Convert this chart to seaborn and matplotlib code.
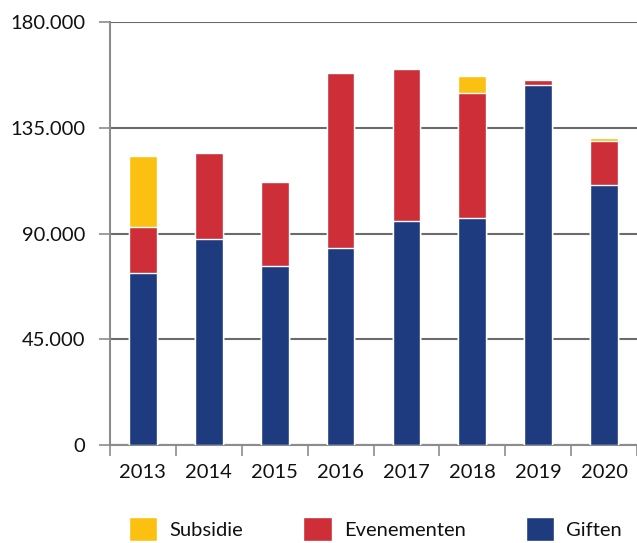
import matplotlib
matplotlib.use("Agg")
import matplotlib.pyplot as plt
from matplotlib.patches import Patch
from matplotlib.ticker import FuncFormatter
import numpy as np
import pandas as pd
import seaborn as sns

years = ["2013", "2014", "2015", "2016", "2017", "2018", "2019", "2020"]
giften = [73400, 87700, 76200, 83900, 95400, 96800, 153300, 110700]
evenementen = [19400, 36600, 35800, 74500, 64700, 53100, 2100, 18700]
subsidie = [30200, 0, 0, 0, 0, 7200, 0, 1300]

colors = {"Subsidie": "#FCC010", "Evenementen": "#CE2E38", "Giften": "#1F3B7F"}

df = pd.DataFrame({
    "jaar": years,
    "Giften": giften,
    "Evenementen": evenementen,
    "Subsidie": subsidie,
})
# cumulative heights for stacking
df["top_giften"] = df["Giften"]
df["top_evenementen"] = df["Giften"] + df["Evenementen"]
df["top_subsidie"] = df["top_evenementen"] + df["Subsidie"]

sns.set_theme(style="white")
plt.rcParams["font.family"] = ["Lato", "DejaVu Sans"]

fig = plt.figure(figsize=(6.37, 5.43), dpi=100)
ax = fig.add_axes([110 / 637, 1 - 445 / 543, 1 - 110 / 637, (445 - 22.3) / 543])

for col, name in [("top_subsidie", "Subsidie"),
                  ("top_evenementen", "Evenementen"),
                  ("top_giften", "Giften")]:
    sns.barplot(data=df, x="jaar", y=col, color=colors[name], width=0.42,
                saturation=1, ax=ax, zorder=3)

ax.set_xlim(-0.5, len(years) - 0.5)
ax.set_ylim(0, 180000)
ax.set_yticks(np.arange(0, 180001, 45000))
ax.yaxis.set_major_formatter(
    FuncFormatter(lambda v, p: "0" if v == 0 else f"{int(v):,}".replace(",", ".")))
ax.set_xlabel("")
ax.set_ylabel("")

grid = "#6b6b6b"
ax.grid(axis="y", color=grid, linewidth=1.5, zorder=0)
ax.grid(axis="x", visible=False)
for s in ["top", "right"]:
    ax.spines[s].set_visible(False)
for s in ["left", "bottom"]:
    ax.spines[s].set_color("#8c8c8c")
    ax.spines[s].set_linewidth(1.5)

ax.set_xticks(np.arange(-0.5, len(years), 1), minor=True)
ax.tick_params(axis="x", which="major", length=0, pad=14, labelsize=14.5,
               labelcolor="#111111")
ax.tick_params(axis="x", which="minor", length=8, width=1.2, color="#8c8c8c",
               direction="out", bottom=True)
ax.tick_params(axis="y", length=8, width=1.2, color="#8c8c8c",
               direction="out", left=True, pad=10, labelsize=14.5,
               labelcolor="#111111")

handles = [Patch(facecolor=colors[n], label=n)
           for n in ["Subsidie", "Evenementen", "Giften"]]
fig.legend(handles=handles, loc="center left", bbox_to_anchor=(129 / 637, 0.026),
           ncol=3, frameon=False, fontsize=14.5, labelcolor="#111111",
           handlelength=1.4, handleheight=1.4, handletextpad=0.6,
           columnspacing=3.0, borderpad=0, borderaxespad=0)

fig.savefig("out.png", dpi=100)
